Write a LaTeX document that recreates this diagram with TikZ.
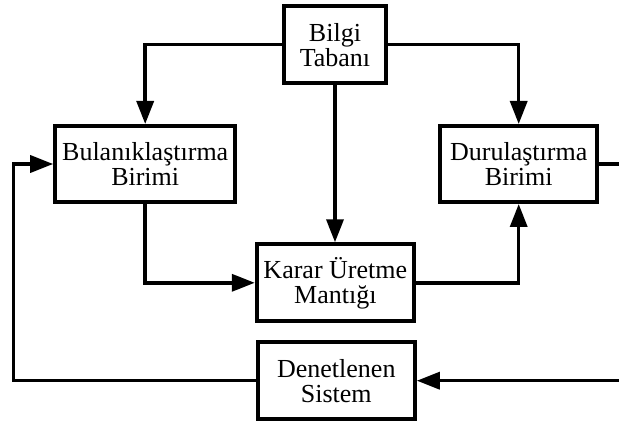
\documentclass[tikz,border=0pt]{standalone}
\usepackage{fontspec}
\setmainfont{Liberation Serif}
\usetikzlibrary{arrows.meta}
\begin{document}
\begin{tikzpicture}[x=1pt,y=-1pt,
  block/.style={draw,line width=4pt,inner sep=0pt,align=center,
    font=\fontsize{26}{25}\selectfont,minimum height=77pt},
  flow/.style={line width=3.5pt,-{Triangle[length=23pt,width=17pt]}},
  link/.style={line width=3.5pt}]
\useasboundingbox (0,0) rectangle (619,425);

% blocks
\node[block,minimum width=102pt] (bilgi) at (335,44.7) {Bilgi\\Tabanı};
\node[block,minimum width=180pt,minimum height=76pt] (bul) at (145.2,164) {Bulanıklaştırma\\Birimi};
\node[block,minimum width=157pt,minimum height=76pt] (dur) at (518.7,164) {Durulaştırma\\Birimi};
\node[block,minimum width=157pt] (karar) at (335.3,282.8) {Karar Üretme\\Mantığı};
\node[block,minimum width=157pt] (denet) at (336.3,380.7) {Denetlenen\\Sistem};

% loose ends at the right border and the feedback corner
\coordinate (outR) at (625,164);
\coordinate (inR) at (625,380.7);
\coordinate (fb) at (13.3,380.7);

% knowledge base feeds the three processing blocks
\draw[flow] (bilgi.west) -| (bul.north);
\draw[flow] (bilgi.east) -| (dur.north);
\draw[flow] (bilgi.south) -- (bilgi.south |- karar.north);

% main signal path
\draw[flow] (bul.south) |- (karar.west);
\draw[flow] (karar.east) -| (dur.south);
\draw[link] (dur.east) -- (outR);
\draw[flow] (inR) -- (denet.east);

% feedback from the plant
\draw[flow] (denet.west) -- (fb) |- (bul.west);
\end{tikzpicture}
\end{document}
